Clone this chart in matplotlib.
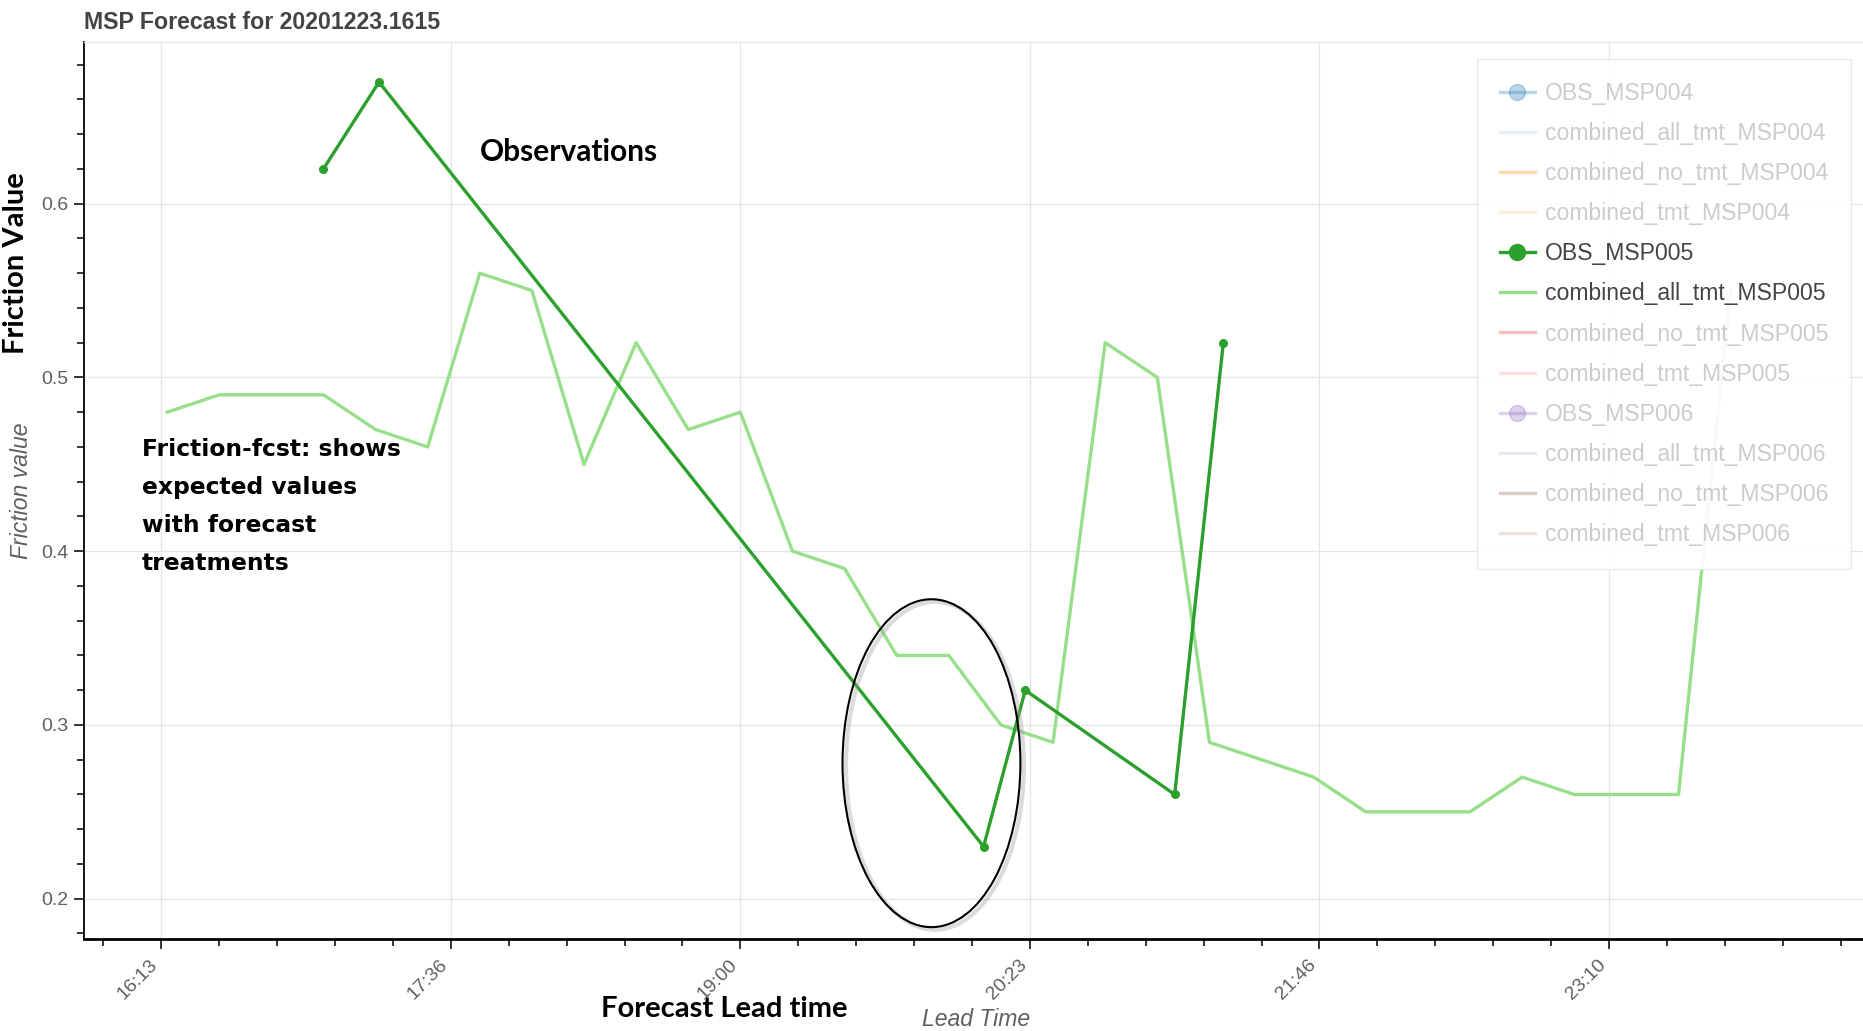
import matplotlib.pyplot as plt
from matplotlib.lines import Line2D
from matplotlib.patches import Ellipse
from matplotlib.ticker import MultipleLocator, FixedLocator


def to_min(s):
    parts = [int(p) for p in s.split(":")]
    if len(parts) == 2:
        parts.append(0)
    return parts[0] * 60 + parts[1] + parts[2] / 60.0


# forecast (combined_all_tmt_MSP005), every 15 min from 16:15
fcst_times = ["16:15", "16:30", "16:45", "17:00", "17:15", "17:30", "17:45", "18:00",
              "18:15", "18:30", "18:45", "19:00", "19:15", "19:30", "19:45", "20:00",
              "20:15", "20:30", "20:45", "21:00", "21:15", "21:30", "21:45", "22:00",
              "22:15", "22:30", "22:45", "23:00", "23:15", "23:30", "23:45"]
fcst_vals = [0.48, 0.49, 0.49, 0.49, 0.47, 0.46, 0.56, 0.55, 0.45, 0.52, 0.47,
             0.48, 0.40, 0.39, 0.34, 0.34, 0.30, 0.29, 0.52, 0.50, 0.29, 0.28,
             0.27, 0.25, 0.25, 0.25, 0.27, 0.26, 0.26, 0.26, 0.55]

# observations OBS_MSP005
obs_times = ["17:00", "17:16", "20:10", "20:22", "21:05", "21:19"]
obs_vals = [0.62, 0.67, 0.23, 0.32, 0.26, 0.52]

tick_times = ["16:13:20", "17:36:40", "19:00:00", "20:23:20", "21:46:40", "23:10:00"]
tick_labels = ["16:13", "17:36", "19:00", "20:23", "21:46", "23:10"]

legend_names = ["OBS_MSP004", "combined_all_tmt_MSP004", "combined_no_tmt_MSP004", "combined_tmt_MSP004",
                "OBS_MSP005", "combined_all_tmt_MSP005", "combined_no_tmt_MSP005", "combined_tmt_MSP005",
                "OBS_MSP006", "combined_all_tmt_MSP006", "combined_no_tmt_MSP006", "combined_tmt_MSP006"]
legend_colors = ["#1f77b4", "#aec7e8", "#ff7f0e", "#ffbb78",
                 "#2ca02c", "#98df8a", "#d62728", "#ff9896",
                 "#9467bd", "#c5b0d5", "#8c564b", "#c49c94"]
active = ["OBS_MSP005", "combined_all_tmt_MSP005"]

plt.rcParams['font.family'] = ['Liberation Sans', 'DejaVu Sans']

fig = plt.figure(figsize=(18.63, 10.31), dpi=100)
ax = fig.add_axes([0.0451, 0.0892, 0.9549, 0.8700])

xf = [to_min(t) for t in fcst_times]
xo = [to_min(t) for t in obs_times]

ax.plot(xf, fcst_vals, color="#98df8a", lw=2.4, zorder=2)
ax.plot(xo, obs_vals, color="#2ca02c", lw=2.4, marker="o", markersize=5.5, zorder=3)

ax.set_xlim(951.1, 1463.1)
ax.set_ylim(0.1768, 0.693)

ticks = [to_min(t) for t in tick_times]
ax.xaxis.set_major_locator(FixedLocator(ticks))
ax.set_xticklabels(tick_labels, rotation=45, ha="right", va="top")
minors = [ticks[0] - 1000 / 60.0]
for t in ticks:
    minors += [t + 1000 / 60.0 * k for k in range(1, 5)]
ax.xaxis.set_minor_locator(FixedLocator(minors))

ax.yaxis.set_major_locator(FixedLocator([0.2, 0.3, 0.4, 0.5, 0.6]))
ax.set_yticklabels(["0.2", "0.3", "0.4", "0.5", "0.6"])
ax.yaxis.set_minor_locator(MultipleLocator(0.02))

ax.tick_params(axis="both", which="major", direction="out", length=7.5, width=1.1,
               labelsize=14, labelcolor="#606060", color="black")
ax.tick_params(axis="both", which="minor", direction="out", length=5, width=1.1, color="black")
ax.tick_params(axis="x", which="major", pad=5)

ax.grid(True, which="major", color="#e5e5e5", lw=0.9, zorder=0)
ax.set_axisbelow(True)

ax.spines["right"].set_visible(False)
ax.spines["top"].set_color("#e5e5e5")
ax.spines["top"].set_linewidth(0.9)
ax.spines["left"].set_linewidth(1.3)
ax.spines["bottom"].set_linewidth(2.0)

ax.set_xlabel("Lead Time", fontsize=16.6, style="italic", color="#606060")
ax.xaxis.set_label_coords(0.5017, -0.0892)
ax.xaxis.label.set_va("center")
ax.set_ylabel("Friction value", fontsize=16.6, style="italic", color="#606060")
ax.yaxis.set_label_coords(-0.0352, 0.5)
ax.yaxis.label.set_va("center")

ax.set_title("MSP Forecast for 20201223.1615", loc="left", fontsize=16.7,
             fontweight="bold", color="#444444", pad=9.7)

# highlight ellipse (with soft shadow)
shadow = Ellipse((1196, 0.2765), 51.2, 0.1887, fill=False, edgecolor="#999999",
                 lw=3, alpha=0.35, zorder=4)
ax.add_patch(shadow)
ell = Ellipse((1195, 0.278), 51.2, 0.1887, fill=False, edgecolor="black", lw=1.5, zorder=5)
ax.add_patch(ell)

# legend (muted entries faded)
handles = []
for name, col in zip(legend_names, legend_colors):
    a = 1.0 if name in active else 0.3
    if name.startswith("OBS"):
        h = Line2D([], [], color=col, lw=2.4, marker="o", markersize=11.5, alpha=a)
    else:
        h = Line2D([], [], color=col, lw=2.4, alpha=a)
    handles.append(h)
leg = ax.legend(handles, legend_names, loc="upper right", bbox_to_anchor=(0.9933, 0.981),
                borderaxespad=0, fontsize=16.6, frameon=True, fancybox=False,
                edgecolor="#e5e5e5", framealpha=0.92, handlelength=1.55,
                handletextpad=0.4, labelspacing=0.74, borderpad=1.0)
leg.get_frame().set_linewidth(0.9)
for txt in leg.get_texts():
    txt.set_color("#444444" if txt.get_text() in active else "#cccccc")

# annotations
fig.text(0.2577, 0.853, "Observations", fontsize=21.5, fontweight="bold", family="Lato",
         va="center", ha="left")
fig.text(0.0762, 0.575, "Friction-fcst: shows\nexpected values\nwith forecast\ntreatments",
         fontsize=16.8, fontweight="bold", family="DejaVu Sans", va="top", ha="left",
         linespacing=1.83)
fig.text(0.3226, 0.0213, "Forecast Lead time", fontsize=21, fontweight="bold", family="Lato",
         va="center", ha="left")
fig.text(0.0085, 0.745, "Friction Value", fontsize=21, fontweight="bold", family="Lato",
         va="center", ha="center", rotation=90)

fig.savefig("out.png", dpi=100)
